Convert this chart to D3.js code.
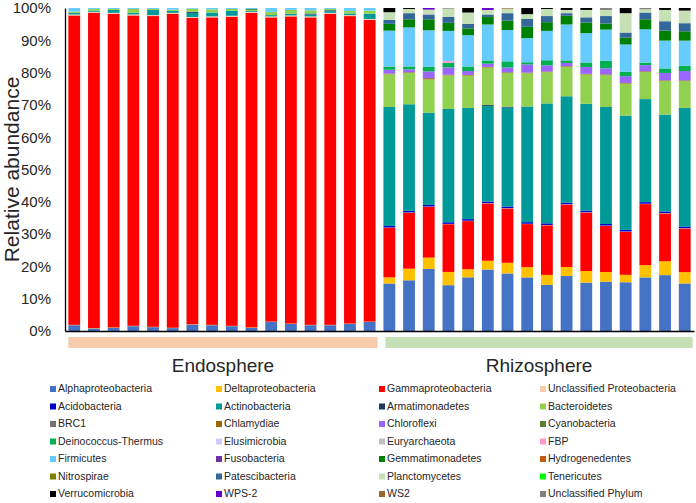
<!DOCTYPE html>
<html>
<head>
<meta charset="utf-8">
<script src="https://cdn.jsdelivr.net/npm/d3@7"></script>
<style>
  body { margin: 0; background: #fff; }
  text { font-family: Arial, "Liberation Sans", sans-serif; }
</style>
</head>
<body>
<svg id="chart" width="696" height="503"></svg>
<script>
// samples: 16 endosphere, 16 rhizosphere
const endoSamples = ['E1','E2','E3','E4','E5','E6','E7','E8','E9','E10','E11','E12','E13','E14','E15','E16'];
const rhizoSamples = ['R1','R2','R3','R4','R5','R6','R7','R8','R9','R10','R11','R12','R13','R14','R15','R16'];
const groups = ['Endosphere', 'Rhizosphere'];
const yTicks = [0, 0.1, 0.2, 0.3, 0.4, 0.5, 0.6, 0.7, 0.8, 0.9, 1];

const phyla = ['Alphaproteobacteria','Deltaproteobacteria','Gammaproteobacteria','Unclassified Proteobacteria',
  'Acidobacteria','Actinobacteria','Armatimonadetes','Bacteroidetes',
  'BRC1','Chlamydiae','Chloroflexi','Cyanobacteria',
  'Deinococcus-Thermus','Elusimicrobia','Euryarchaeota','FBP',
  'Firmicutes','Fusobacteria','Gemmatimonadetes','Hydrogenedentes',
  'Nitrospirae','Patescibacteria','Planctomycetes','Tenericutes',
  'Verrucomicrobia','WPS-2','WS2','Unclassified Phylum'];

const colors = ['#4472c4','#ffc000','#ff0000','#f8cbad',
  '#0000cc','#009999','#1f3864','#92d050',
  '#767171','#996600','#9966ff','#548235',
  '#00b050','#ccccff','#bfbfbf','#ff99cc',
  '#66ccff','#7030a0','#008000','#c55a11',
  '#808000','#336699','#c5e0b4','#00ff00',
  '#000000','#6600cc','#996633','#7f7f7f'];

// relative abundance (%) per phylum, endosphere 1-16 then rhizosphere 1-16
const alphaproteobacteria = [1.8,0.8,1.0,1.5,1.2,0.9,2.0,1.8,1.5,1.0,2.8,2.2,1.8,1.8,2.2,2.8, 14.7,15.7,19.2,14.2,16.6,19.0,17.8,16.6,14.3,17.0,15.0,15.3,15.1,16.6,17.3,14.7];
const deltaproteobacteria = [0.1,0.1,0.1,0.1,0.1,0.1,0.1,0.1,0.1,0.1,0.1,0.1,0.1,0.1,0.1,0.1, 1.9,3.6,3.5,4.1,2.5,2.7,3.3,3.2,3.1,2.8,3.6,3.0,2.3,3.8,4.3,3.5];
const gammaproteobacteria = [95.8,97.6,97.1,96.1,96.2,97.2,94.8,95.2,95.7,97.4,94.2,95.1,95.2,96.3,95.2,93.4, 15.3,17.3,15.7,14.8,14.9,17.7,16.8,13.3,15.4,19.3,18.1,14.3,13.3,18.9,14.8,13.5];
const unclassifiedProteobacteria = [0.3,0.3,0.3,0.3,0.3,0.3,0.3,0.3,0.3,0.3,0.3,0.3,0.3,0.3,0.3,0.3, 0.1,0.1,0.1,0.1,0.1,0.1,0.1,0.1,0.1,0.1,0.1,0.1,0.1,0.1,0.1,0.1];
const acidobacteria = [0,0,0,0,0,0,0,0,0,0,0,0,0,0,0,0, 0.5,0.5,0.5,0.5,0.5,0.5,0.5,0.5,0.5,0.5,0.5,0.5,0.5,0.5,0.5,0.5];
const actinobacteria = [0.5,0.4,0.9,0.5,1.6,0.6,1.3,1.2,1.6,0.3,0.4,0.5,0.6,0.5,0.5,1.6, 36.8,33.0,28.5,35.1,34.4,29.5,30.6,35.8,37.2,32.9,33.1,36.3,35.4,31.9,30.0,36.7];
const armatimonadetes = [0,0,0,0,0,0,0.3,0,0,0,0,0,0.3,0.3,0,0, 0,0,0,0,0,0.3,0.3,0,0,0,0,0,0,0,0,0];
const bacteroidetes = [0.4,0.5,0.3,1.2,0.3,0.4,1.0,1.0,0.5,0.3,1.0,1.2,1.0,0.4,0.8,1.0, 10.1,9.7,10.3,10.4,10.0,11.6,10.4,10.3,9.7,9.1,9.1,9.9,9.9,8.4,10.4,8.3];
const brc1 = [0,0,0,0,0,0,0,0,0,0,0,0,0,0,0,0, 0,0,0,0,0,0,0,0,0,0,0,0,0,0,0,0];
const chlamydiae = [0,0,0,0,0,0,0,0,0,0,0,0,0,0,0,0, 0.2,0.2,0.4,0.2,0.2,0.2,0.2,0.2,0.2,0.2,0.2,0.2,0.2,0.2,0.2,0.2];
const chloroflexi = [0,0,0,0,0,0,0,0,0,0,0,0,0,0,0,0, 1.2,0.9,2.1,2.3,1.2,1.0,1.5,2.5,1.9,1.0,2.1,1.9,2.1,1.9,2.3,2.9];
const cyanobacteria = [0,0,0,0,0,0,0,0,0,0.3,0,0,0,0,0,0, 0,0,0,0,0,0,0,0,0,0,0,0,0,0,0,0];
const deinococcusThermus = [0,0,0,0,0,0,0,0,0,0,0,0,0,0,0,0, 1.0,0.9,1.4,1.4,1.4,1.0,1.9,0.7,1.6,0.8,1.4,2.3,1.4,0.8,1.4,1.6];
const elusimicrobia = [0,0,0,0,0,0,0,0,0,0,0,0,0,0,0,0, 0,0,0,0,0,0,0,0,0,0,0,0,0,0,0,0];
const euryarchaeota = [0,0,0,0,0,0,0,0,0,0,0,0,0,0,0,0, 0,0,0,0,0,0,0,0,0,0,0,0,0,0,0,0];
const fbp = [0,0,0,0,0,0,0,0,0,0,0,0,0,0,0,0, 0,0,0,0.6,0,0,0,0,0,0,0,0,0,0,0,0];
const firmicutes = [1.1,0.3,0.3,0.3,0.3,0.5,0.2,0.4,0.3,0.3,1.2,0.6,0.7,0.3,0.9,0.8, 11.1,12.1,11.3,9.3,9.7,11.1,9.7,7.5,9.1,11.1,9.1,9.7,8.4,10.3,8.6,7.8];
const fusobacteria = [0,0,0,0,0,0,0,0,0,0,0,0,0,0,0,0, 0,0,0,0,0,0,0,0,0,0,0,0,0,0,0,0];
const gemmatimonadetes = [0,0,0,0,0,0,0,0,0,0,0,0,0,0,0,0, 2.1,2.5,3.4,2.5,2.1,2.3,2.9,3.5,2.7,2.7,3.3,1.9,2.1,3.1,3.1,2.9];
const hydrogenedentes = [0,0,0,0,0,0,0,0,0,0,0,0,0,0,0,0, 0,0,0,0,0,0,0,0,0,0,0,0,0,0,0,0];
const nitrospirae = [0,0,0,0,0,0,0,0,0,0,0,0,0,0,0,0, 0,0,0,0,0,0,0,0,0,0,0,0,0,0,0,0];
const patescibacteria = [0,0,0,0,0,0,0,0,0,0,0,0,0,0,0,0, 1.2,1.9,1.5,1.9,1.4,0.8,2.3,2.4,1.9,0.8,1.6,2.3,1.6,2.1,2.9,2.5];
const planctomycetes = [0,0,0,0,0,0,0,0,0,0,0,0,0,0,0,0, 2.4,1.3,1.5,2.5,3.5,1.4,1.4,1.5,2.2,1.0,2.3,1.9,6.0,1.0,3.5,3.9];
const tenericutes = [0,0,0,0,0,0,0,0,0,0,0,0,0,0,0,0, 0,0,0,0,0,0,0,0,0,0,0,0,0,0,0,0];
const verrucomicrobia = [0,0,0,0,0,0,0,0,0,0,0,0,0,0,0,0, 1.3,0.3,0,0,1.4,0,0,1.9,0.3,0.6,0.6,0,1.6,0,0.6,0.8];
const wps2 = [0,0,0,0,0,0,0,0,0,0,0,0,0,0,0,0, 0,0,0.5,0,0,0.6,0,0,0,0,0,0,0,0,0,0];
const ws2 = [0,0,0,0,0,0,0,0,0,0,0,0,0,0,0,0, 0,0,0,0,0,0,0.2,0,0,0,0,0,0,0,0,0];
const unclassifiedPhylum = [0,0,0,0,0,0,0,0,0,0,0,0,0,0,0,0, 0,0,0,0.2,0,0,0,0,0,0,0,0.6,0,0.4,0,0];

const series = [alphaproteobacteria, deltaproteobacteria, gammaproteobacteria, unclassifiedProteobacteria,
  acidobacteria, actinobacteria, armatimonadetes, bacteroidetes,
  brc1, chlamydiae, chloroflexi, cyanobacteria,
  deinococcusThermus, elusimicrobia, euryarchaeota, fbp,
  firmicutes, fusobacteria, gemmatimonadetes, hydrogenedentes,
  nitrospirae, patescibacteria, planctomycetes, tenericutes,
  verrucomicrobia, wps2, ws2, unclassifiedPhylum];

const samples = endoSamples.concat(rhizoSamples);
const rows = samples.map((s, i) => {
  const r = { sample: s };
  phyla.forEach((p, j) => { r[p] = series[j][i]; });
  return r;
});

const svg = d3.select('#chart');

const plotLeft = 65, plotRight = 694, plotTop = 8, plotBottom = 331;

const x = d3.scaleBand()
  .domain(samples)
  .range([plotLeft, plotRight])
  .paddingInner(0.4)
  .paddingOuter(0.17);

const y = d3.scaleLinear()
  .domain([0, 1])
  .range([plotBottom, plotTop]);

const color = d3.scaleOrdinal().domain(phyla).range(colors);

const stacked = d3.stack()
  .keys(phyla)
  .offset(d3.stackOffsetExpand)(rows);

svg.append('g')
  .selectAll('g')
  .data(stacked)
  .join('g')
  .attr('fill', d => color(d.key))
  .selectAll('rect')
  .data(d => d)
  .join('rect')
  .attr('x', d => x(d.data.sample))
  .attr('y', d => y(d[1]))
  .attr('height', d => y(d[0]) - y(d[1]))
  .attr('width', x.bandwidth());

// y axis
const yAxis = svg.append('g')
  .attr('transform', `translate(${plotLeft},0)`)
  .call(d3.axisLeft(y).tickValues(yTicks).tickFormat(d3.format('.0%')).tickSize(0).tickPadding(14));
yAxis.select('.domain').attr('stroke', '#000').attr('stroke-width', 1.3);
yAxis.selectAll('text').attr('font-size', 15).attr('fill', '#262626')
  .attr('font-family', 'Arial, "Liberation Sans", sans-serif');

// x axis line
const xAxis = svg.append('g')
  .attr('transform', `translate(0,${plotBottom})`)
  .call(d3.axisBottom(x).tickSize(0).tickFormat(''));
xAxis.select('.domain').attr('stroke', '#000').attr('stroke-width', 1.3);

svg.append('text')
  .attr('transform', `translate(19,${(plotTop + plotBottom) / 2}) rotate(-90)`)
  .attr('text-anchor', 'middle')
  .attr('font-size', 21)
  .attr('fill', '#262626')
  .text('Relative abundance');

// group bars under the axis
const groupSamples = [endoSamples, rhizoSamples];
const groupColors = ['#f8cbad', '#c5e0b4'];
groups.forEach((g, i) => {
  const s = groupSamples[i];
  const x0 = x(s[0]) + (i === 0 ? 0 : 2);
  const x1 = x(s[s.length - 1]) + x.bandwidth() + 2;
  svg.append('rect')
    .attr('x', x0)
    .attr('y', 337)
    .attr('width', x1 - x0)
    .attr('height', 11)
    .attr('fill', groupColors[i]);
  svg.append('text')
    .attr('x', (x0 + x1) / 2)
    .attr('y', 372)
    .attr('text-anchor', 'middle')
    .attr('font-size', 19)
    .attr('fill', '#262626')
    .text(g);
});

// legend, 4 columns, row-major
const legendX = [50, 216, 379, 540];
const legend = svg.append('g')
  .selectAll('g')
  .data(phyla)
  .join('g')
  .attr('transform', (d, i) => `translate(${legendX[i % 4]},${392 + Math.floor(i / 4) * 17.5})`);

legend.append('rect')
  .attr('x', 0)
  .attr('y', -6)
  .attr('width', 6)
  .attr('height', 6)
  .attr('fill', d => color(d));

legend.append('text')
  .attr('x', 8)
  .attr('y', 0)
  .attr('font-size', 10.5)
  .attr('fill', '#262626')
  .text(d => d);
</script>
</body>
</html>
